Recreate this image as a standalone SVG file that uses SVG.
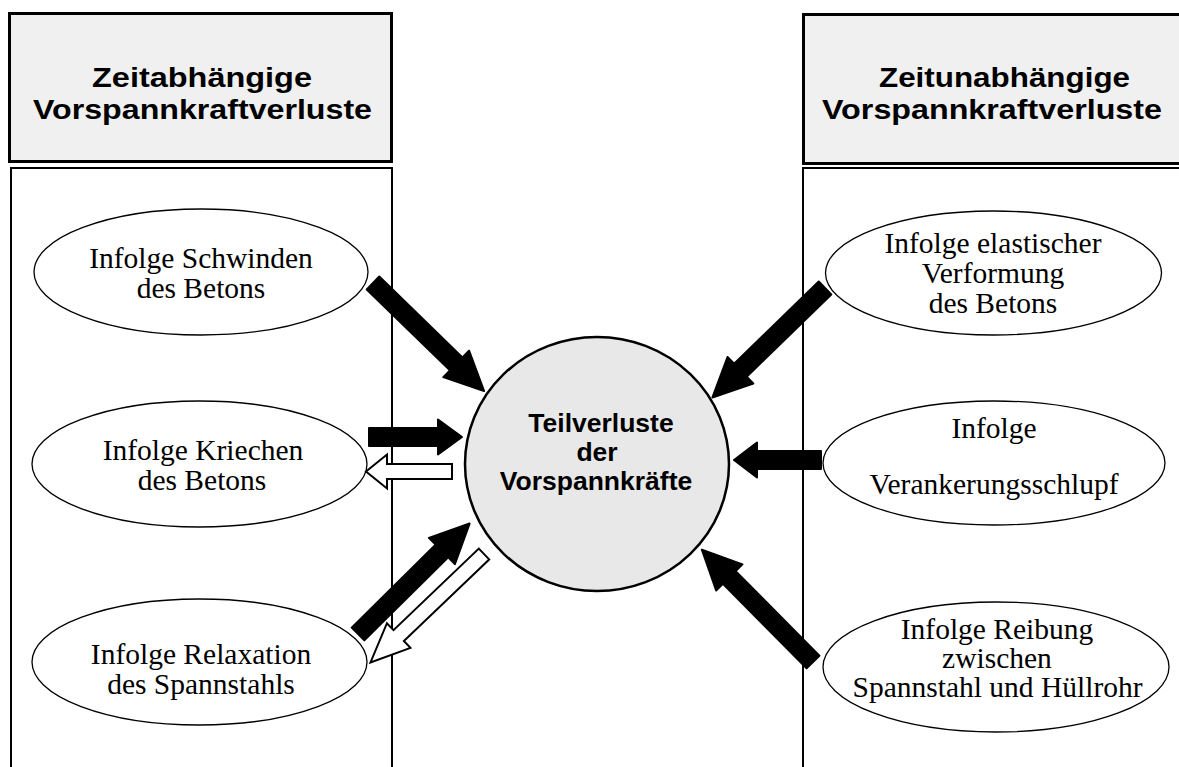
<svg xmlns="http://www.w3.org/2000/svg" width="1179" height="767" viewBox="0 0 1179 767">
  <style>
    .head { fill: #f0f0f0; stroke: #000; stroke-width: 3; }
    .col { fill: none; stroke: #000; stroke-width: 2; }
    .htxt { font-family: "Liberation Sans", Arial, sans-serif; font-weight: bold; font-size: 27.5px; fill: #000; }
    .ctxt { font-family: "Liberation Sans", Arial, sans-serif; font-weight: bold; font-size: 26.5px; fill: #000; }
    .etxt { font-family: "Liberation Serif", "Times New Roman", serif; font-size: 29.5px; fill: #000; }
    .oval { fill: #fff; stroke: #000; stroke-width: 1.3; }
    .hub { fill: #e8e8e8; stroke: #000; stroke-width: 2.5; }
    .solid { fill: #000; stroke: #000; stroke-width: 2; stroke-linejoin: round; }
    .hollow { fill: #fff; stroke: #000; stroke-width: 2; stroke-linejoin: miter; }
  </style>

  <!-- column frames -->
  <g id="col-left">
    <rect class="col" x="11" y="168" width="381" height="620"/>
    <rect class="head" x="9.5" y="13.5" width="382" height="148"/>
    <text class="htxt" text-anchor="middle" x="202" y="87" textLength="220" lengthAdjust="spacingAndGlyphs">Zeitabhängige</text>
    <text class="htxt" text-anchor="middle" x="202.5" y="119" textLength="339" lengthAdjust="spacingAndGlyphs">Vorspannkraftverluste</text>
  </g>
  <g id="col-right">
    <rect class="col" x="803" y="168" width="400" height="620"/>
    <rect class="head" x="803.5" y="14.5" width="400" height="149"/>
    <text class="htxt" text-anchor="middle" x="1004.5" y="87" textLength="251" lengthAdjust="spacingAndGlyphs">Zeitunabhängige</text>
    <text class="htxt" text-anchor="middle" x="992" y="119" textLength="340" lengthAdjust="spacingAndGlyphs">Vorspannkraftverluste</text>
  </g>

  <!-- time-dependent causes -->
  <g id="schwinden">
    <ellipse class="oval" cx="201" cy="272" rx="167" ry="63"/>
    <text class="etxt" text-anchor="middle" x="201" y="268">Infolge Schwinden</text>
    <text class="etxt" text-anchor="middle" x="201" y="298">des Betons</text>
  </g>
  <g id="kriechen">
    <ellipse class="oval" cx="199.5" cy="464" rx="167.5" ry="63"/>
    <text class="etxt" text-anchor="middle" x="203" y="460">Infolge Kriechen</text>
    <text class="etxt" text-anchor="middle" x="202" y="490">des Betons</text>
  </g>
  <g id="relaxation">
    <ellipse class="oval" cx="199.5" cy="662" rx="167.5" ry="63"/>
    <text class="etxt" text-anchor="middle" x="201" y="664">Infolge Relaxation</text>
    <text class="etxt" text-anchor="middle" x="201" y="694">des Spannstahls</text>
  </g>

  <!-- time-independent causes -->
  <g id="elastisch">
    <ellipse class="oval" cx="993.5" cy="273" rx="168" ry="62"/>
    <text class="etxt" text-anchor="middle" x="993" y="253">Infolge elastischer</text>
    <text class="etxt" text-anchor="middle" x="993" y="283">Verformung</text>
    <text class="etxt" text-anchor="middle" x="993" y="313">des Betons</text>
  </g>
  <g id="schlupf">
    <ellipse class="oval" cx="994" cy="463" rx="171" ry="62"/>
    <text class="etxt" text-anchor="middle" x="994" y="438">Infolge</text>
    <text class="etxt" text-anchor="middle" x="994" y="494">Verankerungsschlupf</text>
  </g>
  <g id="reibung">
    <ellipse class="oval" cx="996" cy="667" rx="173" ry="65"/>
    <text class="etxt" text-anchor="middle" x="997" y="639">Infolge Reibung</text>
    <text class="etxt" text-anchor="middle" x="997" y="668">zwischen</text>
    <text class="etxt" text-anchor="middle" x="997.5" y="697">Spannstahl und Hüllrohr</text>
  </g>

  <!-- central node -->
  <g id="teilverluste">
    <ellipse class="hub" cx="597" cy="464" rx="132" ry="127"/>
    <text class="ctxt" text-anchor="middle" x="601" y="432">Teilverluste</text>
    <text class="ctxt" text-anchor="middle" x="597" y="461">der</text>
    <text class="ctxt" text-anchor="middle" x="596" y="490">Vorspannkräfte</text>
  </g>

  <!-- connectors -->
  <g id="connectors">
    <path class="solid" transform="translate(373,283) rotate(44.2)" d="M0,-9 H116 V-18.5 L155,0 L116,18.5 V9 H0 Z"/>
    <path class="solid" transform="translate(369,437)" d="M0,-9 H69 V-17.5 L93,0 L69,17.5 V9 H0 Z"/>
    <path class="hollow" transform="translate(452,471.5) rotate(180)" d="M0,-7.5 H65 V-17 L86,0 L65,17 V7.5 H0 Z"/>
    <path class="solid" transform="translate(358,634) rotate(-44.7)" d="M0,-9 H118 V-18.5 L157,0 L118,18.5 V9 H0 Z"/>
    <path class="hollow" transform="translate(484,554) rotate(136.3)" d="M0,-7.5 H118 V-17 L157,0 L118,17 V7.5 H0 Z"/>
    <path class="solid" transform="translate(825,288) rotate(135.8)" d="M0,-9 H118 V-18.5 L157,0 L118,18.5 V9 H0 Z"/>
    <path class="solid" transform="translate(821,460) rotate(180)" d="M0,-9 H64 V-17.5 L87,0 L64,17.5 V9 H0 Z"/>
    <path class="solid" transform="translate(813,662) rotate(-134.7)" d="M0,-9 H119 V-18.5 L158,0 L119,18.5 V9 H0 Z"/>
  </g>
</svg>
